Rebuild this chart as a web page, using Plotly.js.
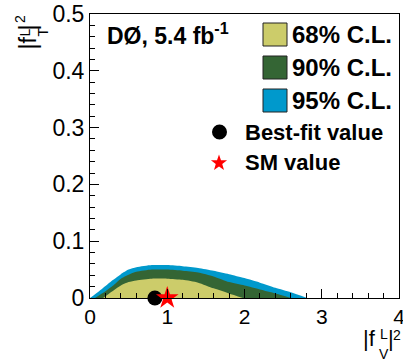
<!DOCTYPE html>
<html>
<head>
<meta charset="utf-8">
<script src="https://cdn.plot.ly/plotly-3.0.1.min.js"></script>
<style>html,body{margin:0;padding:0;background:#fff;}#chart{width:403px;height:364px;}</style>
</head>
<body>
<div id="chart"></div>
<script>
// ---- Data ----
const cl95_x = [0, 0.1, 0.2, 0.3, 0.4, 0.5, 0.6, 0.8, 1.0, 1.2, 1.4, 1.6, 1.8, 2.0, 2.2, 2.4, 2.6, 2.81];
const cl95_y = [0, 0.010, 0.021, 0.032, 0.042, 0.050, 0.054, 0.058, 0.058, 0.056, 0.053, 0.048, 0.042, 0.035, 0.027, 0.018, 0.010, 0];
const cl90_x = [0.065, 0.2, 0.3, 0.4, 0.5, 0.6, 0.8, 1.0, 1.2, 1.4, 1.6, 1.8, 2.0, 2.2, 2.4, 2.6];
const cl90_y = [0, 0.012, 0.022, 0.034, 0.041, 0.046, 0.050, 0.050, 0.048, 0.045, 0.038, 0.028, 0.022, 0.015, 0.008, 0];
const cl68_x = [0.17, 0.28, 0.4, 0.5, 0.6, 0.8, 1.0, 1.2, 1.4, 1.6, 1.8, 1.98];
const cl68_y = [0, 0.011, 0.022, 0.028, 0.031, 0.034, 0.034, 0.032, 0.027, 0.017, 0.008, 0];
const bestfit_x = [0.84], bestfit_y = [0];
const sm_x = [1.0], sm_y = [0];
const legendLabels = ["68% C.L.", "90% C.L.", "95% C.L.", "Best-fit value", "SM value"];
const xTickVals = [0, 1, 2, 3, 4];
const yTickVals = [0, 0.1, 0.2, 0.3, 0.4, 0.5];
const yTickText = ["0", "0.1", "0.2", "0.3", "0.4", "0.5"];

const C68 = '#cccc6a', C90 = '#346534', C95 = '#0099cc';
const FONT = 'Liberation Sans, Arial, Helvetica, sans-serif';

// plot area in pixels
const L = 90, R = 399, T = 14, B = 298;
const W = 403, H = 364;
const px = x => (x - L) / (R - L);
const py = y => (B - y) / (B - T);

function band(x, y, c) {
  return {x: x, y: y, type: 'scatter', mode: 'lines', fill: 'tozeroy', fillcolor: c,
          line: {width: 0, color: c, shape: 'spline', smoothing: 0.6}, hoverinfo: 'skip', showlegend: false};
}
const traces = [
  band(cl95_x, cl95_y, C95),
  band(cl90_x, cl90_y, C90),
  band(cl68_x, cl68_y, C68),
  {x: bestfit_x, y: bestfit_y, type: 'scatter', mode: 'markers', cliponaxis: false,
   marker: {symbol: 'circle', size: 15, color: '#000'}, showlegend: false},
  {x: sm_x, y: sm_y, type: 'scatter', mode: 'markers', cliponaxis: false,
   marker: {symbol: 'star', size: 17, color: '#ff0000', line: {width: 0}}, showlegend: false}
];

const ann = [];
function txt(t, x, y, size, opts) {
  ann.push(Object.assign({text: t, xref: 'paper', yref: 'paper', x: px(x), y: py(y), showarrow: false,
    xanchor: 'left', yanchor: 'middle', font: {family: FONT, size: size, color: '#000'}}, opts || {}));
}
txt('<b>DØ, 5.4 fb<sup>-1</sup></b>', 105, 34, 23);
txt('<b>' + legendLabels[0] + '</b>', 290, 34.5, 24);
txt('<b>' + legendLabels[1] + '</b>', 290, 67.5, 24);
txt('<b>' + legendLabels[2] + '</b>', 290, 100.5, 24);
txt('<b>' + legendLabels[3] + '</b>', 243, 132, 22);
txt('<b>' + legendLabels[4] + '</b>', 243, 162, 22);

// x axis title |f^L_V|^2
txt('|f', 369, 338, 22, {xanchor: 'center'});
txt('L', 383.5, 334, 14, {xanchor: 'center'});
txt('V', 384, 354, 14, {xanchor: 'center'});
txt('|', 391, 338, 22, {xanchor: 'center'});
txt('2', 396.5, 335, 14, {xanchor: 'center'});
// y axis title |f^L_T|^2 (rotated)
const rot = {xanchor: 'center', textangle: -90};
txt('|f', 27.5, 43, 23, rot);
txt('L', 25, 32.5, 14, rot);
txt('T', 43, 32.5, 14, rot);
txt('|', 27.5, 27, 23, rot);
txt('2', 20, 19, 14, rot);

// legend boxes & symbols
const shapes = [];
function box(y0, y1, c) {
  shapes.push({type: 'rect', xref: 'paper', yref: 'paper', x0: px(263), x1: px(287), y0: py(y1), y1: py(y0),
    fillcolor: c, line: {color: '#222', width: 1}});
}
box(23, 46, C68); box(56, 79, C90); box(89, 112, C95);
shapes.push({type: 'circle', xref: 'paper', yref: 'paper', x0: px(212), x1: px(227), y0: py(139.5), y1: py(124.5),
  fillcolor: '#000', line: {width: 0}});
(function () {
  const cx = 219, cy = 163, ro = 8.5, ri = 3.4;
  let d = '';
  for (let i = 0; i < 10; i++) {
    const r = i % 2 ? ri : ro;
    const a = -Math.PI / 2 + i * Math.PI / 5;
    const X = cx + r * Math.cos(a), Y = cy + r * Math.sin(a);
    d += (i ? ' L ' : 'M ') + px(X).toFixed(5) + ',' + py(Y).toFixed(5);
  }
  shapes.push({type: 'path', xref: 'paper', yref: 'paper', path: d + ' Z', fillcolor: '#ff0000', line: {width: 0}});
})();

const axisCommon = {showline: true, linecolor: '#000', linewidth: 1, mirror: true, ticks: 'inside',
  ticklen: 9, tickwidth: 1, tickcolor: '#000', showgrid: false, zeroline: false, fixedrange: true};
const layout = {
  width: W, height: H, margin: {l: L, r: W - R, t: T, b: H - B},
  paper_bgcolor: '#fff', plot_bgcolor: '#fff', showlegend: false,
  font: {family: FONT, color: '#000'},
  xaxis: Object.assign({}, axisCommon, {range: [0, 4], tickvals: xTickVals, ticktext: xTickVals.map(String),
    tickfont: {size: 21}, ticklabeloverflow: 'allow',
    minor: {dtick: 0.2, ticklen: 5, ticks: 'inside', tickcolor: '#000', showgrid: false}}),
  yaxis: Object.assign({}, axisCommon, {range: [0, 0.5], tickvals: yTickVals, ticktext: yTickText,
    tickfont: {size: 23}, ticklabeloverflow: 'allow',
    minor: {dtick: 0.02, ticklen: 5, ticks: 'inside', tickcolor: '#000', showgrid: false}}),
  annotations: ann, shapes: shapes
};
Plotly.newPlot('chart', traces, layout, {staticPlot: true, displayModeBar: false});
</script>
</body>
</html>
